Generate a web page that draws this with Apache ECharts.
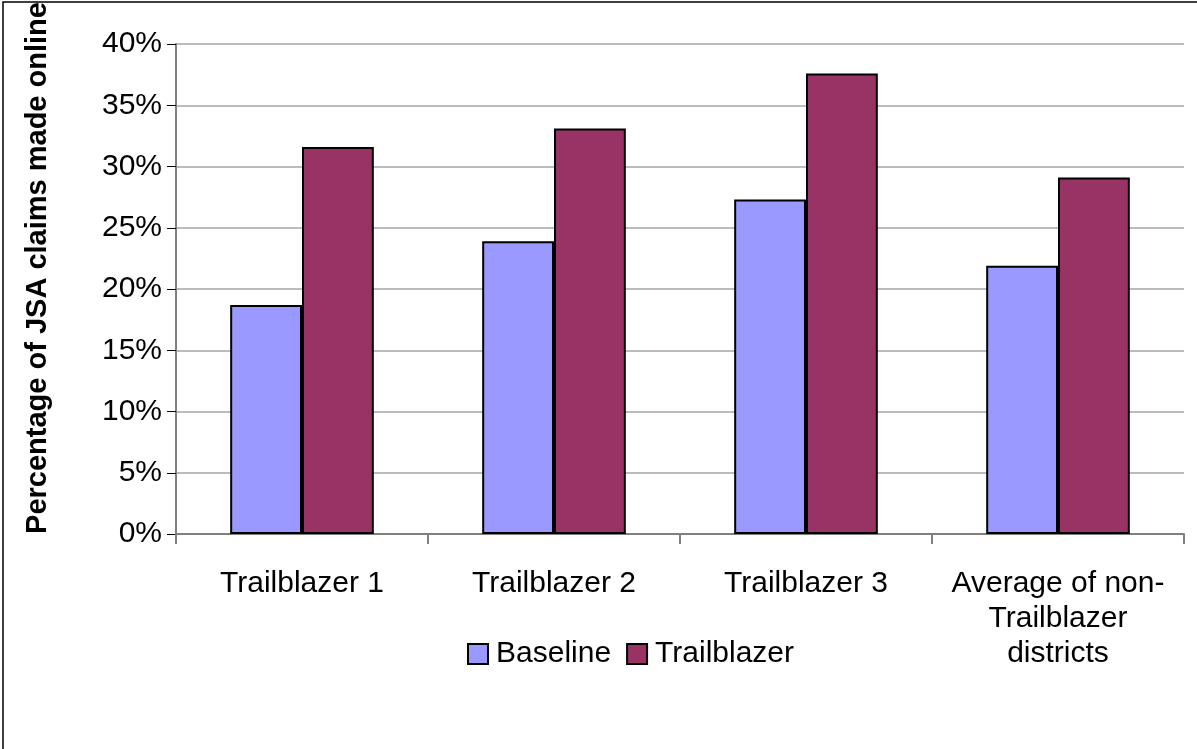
<!DOCTYPE html>
<html>
<head>
<meta charset="utf-8">
<script src="https://cdn.jsdelivr.net/npm/echarts@6/dist/echarts.min.js"></script>
<style>
  html, body { margin: 0; padding: 0; background: #fff; }
  #main { width: 1197px; height: 749px; }
</style>
</head>
<body>
<div id="main"></div>
<script>
// categories along the x axis
var categories = ['Trailblazer 1', 'Trailblazer 2', 'Trailblazer 3', 'Average of non-\nTrailblazer\ndistricts'];
// percentage of JSA claims made online
var baseline = [18.7, 23.9, 27.3, 21.9];
var trailblazer = [31.6, 33.1, 37.6, 29.1];
var yTicks = [0, 5, 10, 15, 20, 25, 30, 35, 40];

var font = 'Arial, "Liberation Sans", sans-serif';
var chart = echarts.init(document.getElementById('main'));

chart.setOption({
    animation: false,
    backgroundColor: '#fff',
    textStyle: { fontFamily: font },
    grid: {
        left: 176,
        right: 13,
        top: 44,
        bottom: 215
    },
    legend: {
        left: 467,
        top: 639,
        padding: 0,
        itemWidth: 20,
        itemHeight: 20,
        itemGap: 15,
        icon: 'rect',
        textStyle: { fontSize: 30, color: '#000', fontFamily: font, padding: [0, 0, 0, 3] },
        data: ['Baseline', 'Trailblazer']
    },
    xAxis: {
        type: 'category',
        data: categories,
        axisLine: { lineStyle: { color: '#808080', width: 2 } },
        axisTick: { show: true, length: 10, lineStyle: { color: '#808080', width: 2 } },
        axisLabel: {
            color: '#000',
            fontSize: 30,
            lineHeight: 35,
            margin: 32,
            interval: 0
        }
    },
    yAxis: {
        type: 'value',
        min: yTicks[0],
        max: yTicks[yTicks.length - 1],
        interval: 5,
        axisLine: { show: true, lineStyle: { color: '#808080', width: 2 } },
        axisTick: { show: true, length: 9, lineStyle: { color: '#000', width: 1 } },
        splitLine: { lineStyle: { color: '#a6a6a6', width: 1.5 } },
        axisLabel: {
            color: '#000',
            fontSize: 30,
            margin: 14,
            formatter: '{value}%'
        }
    },
    series: [
        {
            name: 'Baseline',
            type: 'bar',
            data: baseline,
            barGap: '0%',
            barCategoryGap: '43%',
            itemStyle: { color: '#9999ff', borderColor: '#000', borderWidth: 2 }
        },
        {
            name: 'Trailblazer',
            type: 'bar',
            data: trailblazer,
            barGap: '0%',
            barCategoryGap: '43%',
            itemStyle: { color: '#993366', borderColor: '#000', borderWidth: 2 }
        }
    ],
    graphic: [
        {
            type: 'rect',
            shape: { x: 3, y: 2, width: 1300, height: 800 },
            style: { fill: 'none', stroke: '#000', lineWidth: 1.5 },
            silent: true
        },
        {
            type: 'text',
            x: 38,
            y: 268,
            rotation: Math.PI / 2,
            style: {
                text: 'Percentage of JSA claims made online',
                fontSize: 29,
                fontWeight: 'bold',
                fontFamily: font,
                fill: '#000',
                align: 'center',
                verticalAlign: 'middle'
            }
        }
    ]
});
</script>
</body>
</html>
